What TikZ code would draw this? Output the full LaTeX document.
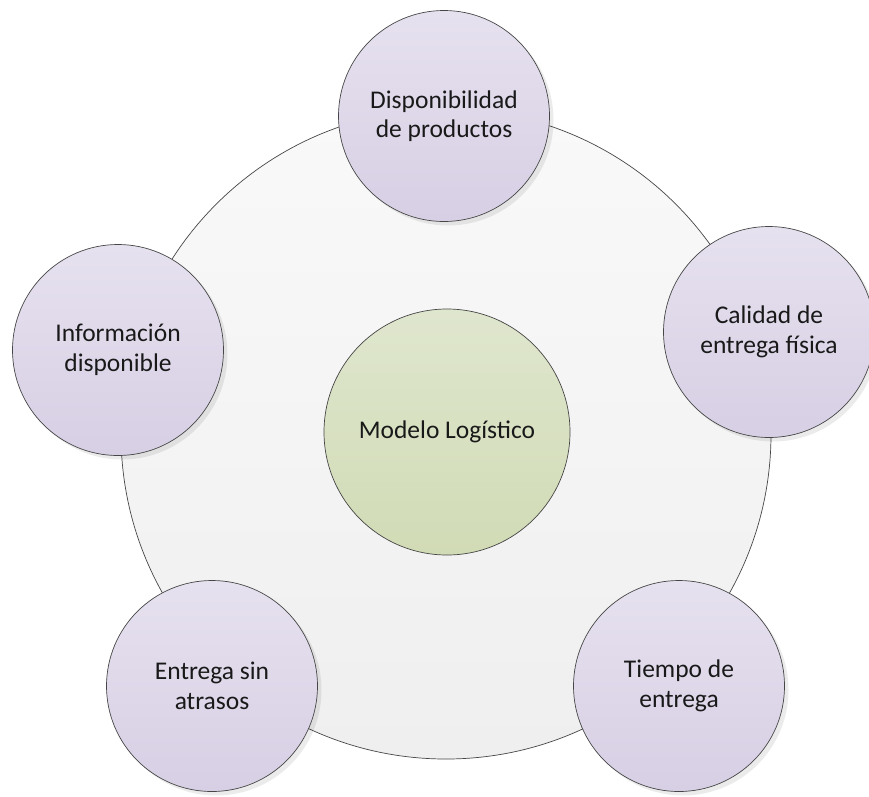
\documentclass[tikz,border=0pt]{standalone}
\usepackage{fontspec}
\setmainfont{Carlito}
\definecolor{lavtop}{RGB}{230,225,239}
\definecolor{lavbot}{RGB}{215,207,228}
\definecolor{grntop}{RGB}{223,230,206}
\definecolor{grnbot}{RGB}{209,219,181}
\definecolor{bigtop}{RGB}{249,249,249}
\definecolor{bigbot}{RGB}{239,239,239}
\definecolor{edge}{RGB}{70,70,70}
\begin{document}
\begin{tikzpicture}[x=1pt,y=-1pt,
  every node/.style={font=\fontsize{25.5}{29.5}\selectfont, align=center, text=black!90},
  outer/.style={circle, minimum size=650pt, inner sep=0pt, draw=edge, line width=0.7pt, top color=bigtop, bottom color=bigbot},
  satellite/.style={circle, minimum size=211pt, inner sep=0pt, draw=edge, line width=0.7pt, top color=lavtop, bottom color=lavbot},
  core/.style={circle, minimum size=246pt, inner sep=0pt, draw=edge, line width=0.7pt, top color=grntop, bottom color=grnbot},
  shade/.style={circle, minimum size=211pt, inner sep=0pt, fill=black, opacity=0.08}]
\useasboundingbox (0,0) rectangle (869,796);
\fill[white] (0,0) rectangle (869,796);
\node[outer] (big) at (446,434) {};
\node[core] (core) at (447,432) {Modelo Logístico};
\foreach \p in {(448,120),(773,336),(122,354),(216,690),(683,690)}{
  \node[shade] at \p {};
}
\node[satellite] (top) at (444,116) {Disponibilidad\\de productos};
\node[satellite] (right) at (769,332) {Calidad de\\entrega física};
\node[satellite] (left) at (118,350) {Información\\disponible};
\node[satellite] (bl) at (212,686) {Entrega sin\\atrasos};
\node[satellite] (br) at (679,686) {Tiempo de\\entrega};
\end{tikzpicture}
\end{document}
